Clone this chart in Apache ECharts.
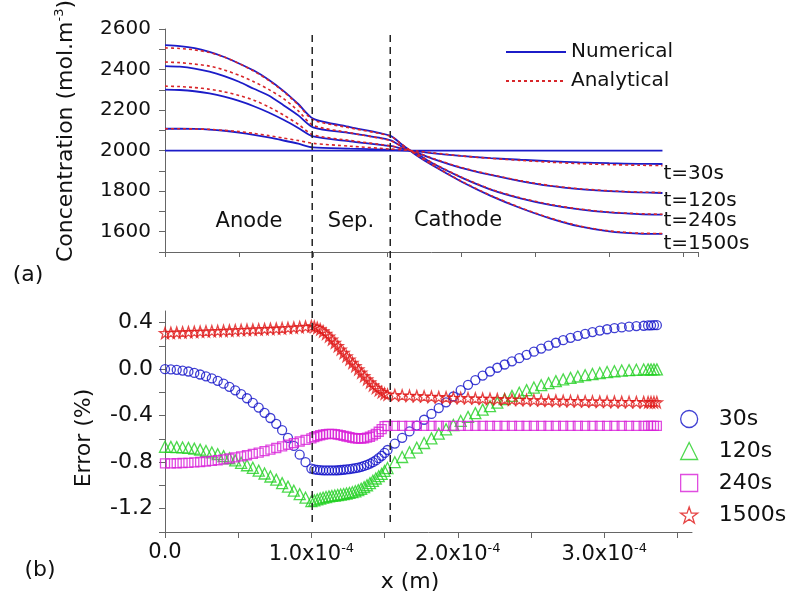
<!DOCTYPE html>
<html>
<head>
<meta charset="utf-8">
<script src="https://cdn.jsdelivr.net/npm/echarts@6/dist/echarts.min.js"></script>
<style>html,body{margin:0;padding:0;background:#fff;}#chart{width:789px;height:594px;}</style>
</head>
<body>
<div id="chart"></div>
<script>
// ---------- Panel (a): concentration profiles (x in micrometres) ----------
const concX = [0,10,20,30,40,50,60,70,80,90,100,125,152,160,170,180,200,220,240,260,280,300,320,336];
const initX = [0, 336];
const init0 = [2000, 2000];
const num30   = [2108,2108,2107,2104,2098,2089,2078,2065,2050,2034,2016,2010,2004,2001,1996,1988,1974,1963,1955,1948,1942,1938,1935,1934];
const num120  = [2301,2299,2293,2282,2266,2245,2219,2188,2152,2112,2070,2046,2023,2010,1990,1962,1915,1880,1850,1826,1810,1800,1794,1791];
const num240  = [2417,2414,2405,2390,2368,2340,2305,2272,2224,2174,2115,2086,2052,2020,1985,1940,1868,1808,1765,1733,1710,1695,1687,1684];
const num1500 = [2520,2516,2506,2487,2462,2430,2395,2350,2295,2230,2158,2116,2074,2030,1976,1930,1848,1777,1717,1666,1626,1602,1591,1589];
const ana30   = [2108,2108,2107,2105,2100,2094,2085,2074,2062,2050,2036,2022,2008,2004,1998,1990,1974,1962,1952,1943,1936,1931,1928,1926];
const ana120  = [2318,2316,2311,2303,2290,2272,2249,2216,2176,2130,2078,2050,2024,2011,1991,1964,1917,1882,1852,1828,1812,1802,1796,1793];
const ana240  = [2437,2434,2427,2417,2398,2372,2340,2302,2257,2196,2125,2088,2050,2020,1986,1942,1870,1810,1767,1735,1712,1697,1689,1686];
const ana1500 = [2507,2504,2497,2484,2462,2430,2392,2347,2292,2226,2152,2112,2072,2031,1978,1932,1850,1779,1719,1668,1628,1604,1593,1591];
const timeLabels = ['t=30s','t=120s','t=240s','t=1500s'];

// ---------- Panel (b): relative error (x in micrometres) ----------
const errX = [0,4,8,12,16,20,24,28,32,36,40,44,48,52,56,60,64,68,72,76,80,84,88,92,96,100,
  102,104,106,108,110,112,114,116,118,120,122,124,126,128,130,132,134,136,138,140,142,144,146,148,150,152,
  157,162,167,172,177,182,187,192,197,202,207,212,217,222,227,232,237,242,247,252,257,262,267,272,277,282,287,292,297,302,307,312,317,322,327,
  330,332,334,336];
const err30 = [0,-0.002,-0.006,-0.012,-0.020,-0.032,-0.046,-0.062,-0.080,-0.100,-0.125,-0.152,-0.182,-0.215,-0.250,-0.290,-0.330,-0.375,-0.420,-0.470,-0.525,-0.590,-0.660,-0.735,-0.800,-0.855,
  -0.862,-0.866,-0.868,-0.870,-0.871,-0.871,-0.871,-0.870,-0.869,-0.867,-0.865,-0.862,-0.859,-0.855,-0.851,-0.846,-0.840,-0.832,-0.823,-0.812,-0.800,-0.785,-0.765,-0.745,-0.720,-0.695,
  -0.64,-0.59,-0.535,-0.485,-0.435,-0.385,-0.335,-0.285,-0.235,-0.18,-0.135,-0.095,-0.055,-0.02,0.012,0.04,0.067,0.094,0.123,0.15,0.177,0.202,0.227,0.249,0.269,0.287,0.304,0.319,0.332,0.343,0.352,0.359,0.365,0.37,0.373,
  0.376,0.377,0.378,0.378];
const err120 = [-0.667,-0.668,-0.670,-0.673,-0.677,-0.683,-0.692,-0.703,-0.716,-0.731,-0.748,-0.766,-0.785,-0.805,-0.826,-0.848,-0.872,-0.897,-0.923,-0.950,-0.980,-1.010,-1.045,-1.075,-1.105,-1.135,
  -1.128,-1.12,-1.112,-1.105,-1.099,-1.094,-1.09,-1.086,-1.082,-1.078,-1.074,-1.069,-1.064,-1.058,-1.05,-1.04,-1.028,-1.014,-0.998,-0.98,-0.96,-0.94,-0.92,-0.9,-0.875,-0.85,
  -0.80,-0.755,-0.715,-0.675,-0.635,-0.595,-0.555,-0.517,-0.48,-0.445,-0.41,-0.378,-0.348,-0.318,-0.288,-0.258,-0.23,-0.203,-0.18,-0.158,-0.138,-0.12,-0.103,-0.088,-0.075,-0.063,-0.052,-0.042,-0.033,-0.025,-0.018,-0.012,-0.008,-0.005,-0.003,
  -0.002,-0.002,-0.002,-0.002];
const err240 = [-0.81,-0.81,-0.809,-0.807,-0.805,-0.802,-0.798,-0.794,-0.789,-0.783,-0.776,-0.768,-0.759,-0.75,-0.74,-0.729,-0.717,-0.705,-0.692,-0.678,-0.664,-0.65,-0.636,-0.622,-0.608,-0.595,
  -0.585,-0.576,-0.568,-0.562,-0.558,-0.556,-0.556,-0.558,-0.562,-0.567,-0.573,-0.579,-0.585,-0.59,-0.594,-0.596,-0.596,-0.594,-0.589,-0.581,-0.57,-0.556,-0.538,-0.515,-0.49,-0.487,
  -0.487,-0.487,-0.487,-0.487,-0.487,-0.488,-0.487,-0.487,-0.487,-0.488,-0.487,-0.487,-0.487,-0.487,-0.488,-0.487,-0.487,-0.487,-0.487,-0.488,-0.487,-0.487,-0.487,-0.487,-0.488,-0.487,-0.487,-0.487,-0.488,-0.487,-0.487,-0.487,-0.488,-0.488,-0.488,
  -0.488,-0.488,-0.488,-0.488];
const err1500 = [0.311,0.313,0.315,0.317,0.319,0.321,0.323,0.325,0.327,0.329,0.331,0.333,0.335,0.337,0.339,0.341,0.343,0.345,0.347,0.349,0.352,0.355,0.358,0.362,0.366,0.37,
  0.365,0.356,0.343,0.326,0.305,0.282,0.256,0.228,0.199,0.17,0.141,0.112,0.084,0.056,0.028,0.0,-0.029,-0.058,-0.086,-0.113,-0.138,-0.16,-0.18,-0.197,-0.21,-0.218,
  -0.222,-0.225,-0.228,-0.231,-0.234,-0.237,-0.24,-0.242,-0.245,-0.247,-0.249,-0.251,-0.253,-0.255,-0.257,-0.259,-0.261,-0.263,-0.264,-0.266,-0.267,-0.269,-0.27,-0.272,-0.273,-0.274,-0.276,-0.277,-0.278,-0.279,-0.28,-0.281,-0.282,-0.283,-0.283,
  -0.284,-0.284,-0.284,-0.284];
const errNames = ['30s','120s','240s','1500s'];
const boundaries = [100, 153]; // electrode / separator interfaces, micrometres

// ---------- styling ----------
const FONT = 'DejaVu Sans';
const AXC = '#666';
const BLUE_LINE = '#1c1cc8';
const RED_DOT = '#d8262a';
const errColors = ['#1010c8', '#22d022', '#d820d8', '#e01818'];
const STAR = 'path://M50,2 L61.8,36.2 L97.6,36.2 L68.6,57.4 L79.4,91.6 L50,70.4 L20.6,91.6 L31.4,57.4 L2.4,36.2 L38.2,36.2 Z';
const errSymbols = ['circle', 'triangle', 'rect', STAR];
const errSizes = [9, 11, 9, 11];

const um = v => v * 1e-6;
const pairs = (xs, ys) => xs.map((x, i) => [um(x), ys[i]]);

function xLabel(v) {
  const m = Math.round(v * 1e5); // tenths of 1e-4 m
  if (m % 10 !== 0) return '';
  const n = m / 10;
  return n === 0 ? '0.0' : n.toFixed(1) + 'x10{sup|-4}';
}

const numSets = [num30, num120, num240, num1500];
const anaSets = [ana30, ana120, ana240, ana1500];
const labelDy = [10, 8, 6, 10];

const series = [];
series.push({
  name: 'Numerical', type: 'line', xAxisIndex: 0, yAxisIndex: 0,
  data: pairs(initX, init0), symbol: 'none',
  lineStyle: { color: BLUE_LINE, width: 1.8 }, itemStyle: { color: BLUE_LINE }, z: 2
});
numSets.forEach((vals, i) => {
  series.push({
    name: 'Numerical', type: 'line', xAxisIndex: 0, yAxisIndex: 0,
    data: pairs(concX, vals), symbol: 'none', smooth: 0.25,
    lineStyle: { color: BLUE_LINE, width: 1.8 }, itemStyle: { color: BLUE_LINE }, z: 2,
    endLabel: {
      show: true, formatter: timeLabels[i], distance: 1, offset: [0, labelDy[i]],
      fontFamily: FONT, fontSize: 20, color: '#111'
    }
  });
});
anaSets.forEach((vals) => {
  series.push({
    name: 'Analytical', type: 'line', xAxisIndex: 0, yAxisIndex: 0,
    data: pairs(concX, vals), symbol: 'none', smooth: 0.25,
    lineStyle: { color: RED_DOT, width: 1.6, type: [3, 3] }, itemStyle: { color: RED_DOT }, z: 3
  });
});
[err30, err120, err240, err1500].forEach((vals, i) => {
  series.push({
    name: errNames[i], type: 'scatter', xAxisIndex: 1, yAxisIndex: 1,
    data: pairs(errX, vals), symbol: errSymbols[i], symbolSize: errSizes[i],
    itemStyle: { color: 'rgba(0,0,0,0)', borderColor: errColors[i], borderWidth: 1.3 },
    z: 2 + i
  });
});
// interface lines spanning both panels, drawn on an overlay grid (y 0..1 = full span)
boundaries.forEach((b) => {
  series.push({
    name: '_bound' + b, type: 'line', xAxisIndex: 2, yAxisIndex: 2,
    data: [[um(b), 0], [um(b), 1]], symbol: 'none', silent: true,
    lineStyle: { type: [7, 5], color: '#222', width: 1.5 }, z: 10
  });
});

const supRich = { sup: { fontSize: 13, fontFamily: FONT, color: '#111', padding: [0, 0, 12, 0] } };

const option = {
  animation: false,
  backgroundColor: '#fff',
  textStyle: { fontFamily: FONT },
  grid: [
    { left: 165, right: 91, top: 29, height: 223 },
    { left: 165, right: 97, top: 311, height: 221 },
    { left: 165, right: 94, top: 33, height: 489 }
  ],
  xAxis: [
    { gridIndex: 0, type: 'value', min: 0, max: 3.6e-4, interval: 0.5e-4,
      axisLine: { onZero: false, lineStyle: { color: AXC } },
      axisTick: { length: 5, lineStyle: { color: AXC } },
      axisLabel: { show: false }, splitLine: { show: false } },
    { gridIndex: 1, type: 'value', min: 0, max: 3.6e-4, interval: 0.5e-4,
      axisLine: { onZero: false, lineStyle: { color: AXC } },
      axisTick: { length: 6, lineStyle: { color: AXC } },
      axisLabel: { formatter: xLabel, margin: 10, fontFamily: FONT, fontSize: 21, color: '#111',
        showMaxLabel: false, rich: { sup: { fontSize: 13, fontFamily: FONT, color: '#111', padding: [0, 0, 12, 0] } } },
      splitLine: { show: false } },
    { gridIndex: 2, type: 'value', min: 0, max: 3.6e-4, show: false }
  ],
  yAxis: [
    { gridIndex: 0, type: 'value', min: 1500, max: 2600, interval: 100,
      axisLine: { show: true, lineStyle: { color: AXC } },
      axisTick: { show: true, length: 6, lineStyle: { color: AXC } },
      axisLabel: { formatter: v => (Math.round(v) % 200 === 0 ? String(Math.round(v)) : ''),
        margin: 14, fontFamily: FONT, fontSize: 20, color: '#111' },
      splitLine: { show: false } },
    { gridIndex: 1, type: 'value', min: -1.4, max: 0.5, interval: 0.2,
      axisLine: { show: true, lineStyle: { color: AXC } },
      axisTick: { show: true, length: 6, lineStyle: { color: AXC } },
      axisLabel: { formatter: v => { const k = Math.round(v * 10); return (k % 4 === 0) ? (k / 10).toFixed(1) : ''; },
        margin: 12, fontFamily: FONT, fontSize: 22, color: '#111', showMaxLabel: false },
      splitLine: { show: false } },
    { gridIndex: 2, type: 'value', min: 0, max: 1, show: false }
  ],
  legend: [
    { data: [
        { name: 'Numerical', itemStyle: { opacity: 0 } },
        { name: 'Analytical', itemStyle: { opacity: 0 } }
      ],
      orient: 'vertical', left: 500, top: 37,
      itemWidth: 60, itemHeight: 14, itemGap: 9, selectedMode: false,
      textStyle: { fontFamily: FONT, fontSize: 20, color: '#111', lineHeight: 20 } },
    { data: errNames.map((n, i) => ({ name: n, icon: errSymbols[i],
        itemStyle: { color: 'rgba(0,0,0,0)', borderColor: errColors[i], borderWidth: 1.3 } })),
      orient: 'vertical', left: 675, top: 403, itemWidth: 17, itemHeight: 17, itemGap: 10,
      selectedMode: false,
      textStyle: { fontFamily: FONT, fontSize: 22, color: '#111', lineHeight: 22, padding: [0, 0, 0, 16] } }
  ],
  graphic: [
    { type: 'text', x: 66, y: 131, rotation: Math.PI / 2,
      style: { text: 'Concentration (mol.m{sup|-3})', align: 'center', verticalAlign: 'middle',
        font: '22px "DejaVu Sans"', fill: '#111', rich: supRich } },
    { type: 'text', x: 84, y: 438, rotation: Math.PI / 2,
      style: { text: 'Error (%)', align: 'center', verticalAlign: 'middle', font: '22px "DejaVu Sans"', fill: '#111' } },
    { type: 'text', x: 410, y: 582,
      style: { text: 'x (m)', align: 'center', verticalAlign: 'middle', font: '22px "DejaVu Sans"', fill: '#111' } },
    { type: 'text', x: 28, y: 275,
      style: { text: '(a)', align: 'center', verticalAlign: 'middle', font: '22px "DejaVu Sans"', fill: '#111' } },
    { type: 'text', x: 40, y: 570,
      style: { text: '(b)', align: 'center', verticalAlign: 'middle', font: '22px "DejaVu Sans"', fill: '#111' } },
    { type: 'text', x: 249, y: 222,
      style: { text: 'Anode', align: 'center', verticalAlign: 'middle', font: '21px "DejaVu Sans"', fill: '#111' } },
    { type: 'text', x: 351, y: 222,
      style: { text: 'Sep.', align: 'center', verticalAlign: 'middle', font: '21px "DejaVu Sans"', fill: '#111' } },
    { type: 'text', x: 458, y: 221,
      style: { text: 'Cathode', align: 'center', verticalAlign: 'middle', font: '21px "DejaVu Sans"', fill: '#111' } }
  ],
  series: series
};

const chart = echarts.init(document.getElementById('chart'), null, { renderer: 'canvas' });
chart.setOption(option);
</script>
</body>
</html>
